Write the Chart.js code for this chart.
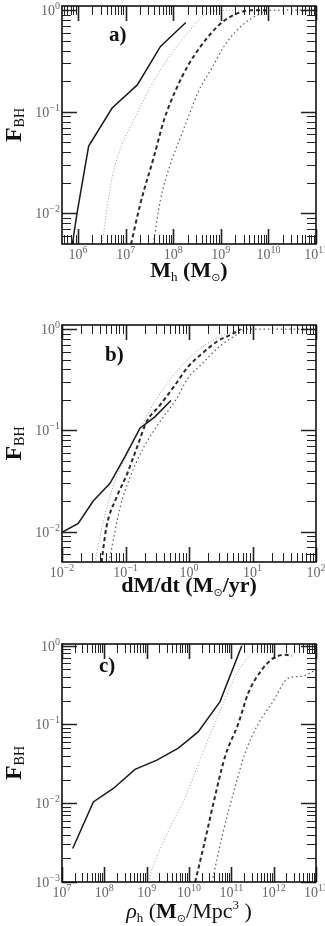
<!DOCTYPE html>
<html><head><meta charset="utf-8">
<script src="https://cdn.jsdelivr.net/npm/chart.js@4"></script>
<style>
html,body{margin:0;padding:0;background:#fff;}
body{width:325px;height:926px;position:relative;overflow:hidden;}
canvas{position:absolute;left:0;}
</style></head><body>
<canvas id="ca" width="325" height="300" style="top:0px;width:325px;height:300px"></canvas>
<canvas id="cb" width="325" height="310" style="top:300px;width:325px;height:310px"></canvas>
<canvas id="cc" width="325" height="316" style="top:610px;width:325px;height:316px"></canvas>
<script>
// ---------- Panel a: F_BH vs halo mass M_h (Msun) ----------
const aSolidX = [7.6e5, 9.5e5, 1.67e6, 5.2e6, 1.76e7, 5.4e7, 1.84e8];
const aSolidY = [0.005, 0.010, 0.046, 0.109, 0.184, 0.44, 0.757];
const aDotX   = [3.2e6, 5.2e6, 1.76e7, 5.45e7, 2.0e8, 4.9e8, 1.0e9, 3.0e9];
const aDotY   = [0.005, 0.0223, 0.097, 0.259, 0.594, 0.93, 1.0, 1.0];
const aDashX  = [1.3e7, 2.06e7, 3.94e7, 6.4e7, 1.13e8, 2.0e8, 3.5e8, 6.0e8, 1.1e9, 2.1e9, 4.5e9, 1.0e10];
const aDashY  = [0.005, 0.0127, 0.0363, 0.083, 0.164, 0.28, 0.42, 0.58, 0.77, 0.92, 1.0, 1.0];
const aDdX    = [3.8e7, 5.4e7, 8.8e7, 1.44e8, 2.0e8, 3.5e8, 6.2e8, 1.28e9, 2.9e9, 6.0e9, 1.2e10, 1.0e11];
const aDdY    = [0.005, 0.0136, 0.031, 0.057, 0.085, 0.164, 0.26, 0.47, 0.72, 0.90, 1.0, 1.0];
const aXExp = [6, 7, 8, 9, 10, 11];
const aYExp = [0, -1, -2];

// ---------- Panel b: F_BH vs accretion rate dM/dt (Msun/yr) ----------
const bSolidX = [0.01, 0.018, 0.031, 0.057, 0.098, 0.169, 0.29, 0.52];
const bSolidY = [0.0098, 0.012, 0.020, 0.030, 0.055, 0.105, 0.136, 0.197];
const bDotX   = [0.033, 0.045, 0.068, 0.105, 0.17, 0.31, 0.566, 0.95, 1.58, 2.9, 4.7, 7.0];
const bDotY   = [0.005, 0.0127, 0.0314, 0.057, 0.105, 0.206, 0.349, 0.50, 0.66, 0.83, 0.93, 1.0];
const bDashX  = [0.042, 0.05, 0.072, 0.105, 0.15, 0.216, 0.35, 0.60, 0.95, 1.58, 2.9, 4.7, 6.5];
const bDashY  = [0.005, 0.011, 0.0216, 0.0366, 0.0666, 0.122, 0.178, 0.279, 0.42, 0.57, 0.77, 0.89, 1.0];
const bDdX    = [0.055, 0.082, 0.117, 0.19, 0.35, 0.64, 0.95, 1.58, 2.9, 5.3, 8.1, 100];
const bDdY    = [0.005, 0.0172, 0.034, 0.0666, 0.122, 0.206, 0.325, 0.45, 0.66, 0.86, 1.0, 1.0];
const bXExp = [-2, -1, 0, 1, 2];
const bYExp = [0, -1, -2];

// ---------- Panel c: F_BH vs halo density rho_h (Msun/Mpc^3) ----------
const cSolidX = [1.79e7, 5.5e7, 1.63e8, 5.3e8, 1.74e9, 5.6e9, 1.07e10, 1.66e10, 5.4e10, 1.77e11];
const cSolidY = [0.00266, 0.0104, 0.0154, 0.0269, 0.0353, 0.050, 0.0667, 0.081, 0.195, 1.0];
const cDotX   = [1.1e9, 1.25e9, 3.57e9, 8.1e9, 2.4e10, 6.0e10, 1.23e11, 3.05e11, 5.2e11];
const cDotY   = [0.001, 0.0013, 0.0049, 0.0118, 0.052, 0.168, 0.405, 0.805, 1.0];
const cDashX  = [1.4e10, 2.4e10, 4.1e10, 7.1e10, 1.47e11, 2.5e11, 5.2e11, 9.9e11, 1.87e12, 2.7e12];
const cDashY  = [0.001, 0.0034, 0.0121, 0.039, 0.1035, 0.249, 0.49, 0.695, 0.766, 0.74];
const cDdX    = [3.5e10, 6.0e10, 1.23e11, 2.1e11, 4.4e11, 9.1e11, 2.24e12, 4.6e12, 1.0e13];
const cDdY    = [0.001, 0.0037, 0.0162, 0.043, 0.1035, 0.186, 0.387, 0.41, 0.49];
const cXExp = [7, 8, 9, 10, 11, 12, 13];
const cYExp = [0, -1, -2, -3];

// ---------- styling ----------
const SERIF = '"Liberation Serif", "DejaVu Serif", serif';
const SYM = '"DejaVu Sans", "DejaVu Serif", sans-serif';
const STYLES = {
  solid: { color: '#1a1a1a', w: 1.5, dash: [], smooth: false },
  dot:   { color: '#9a9a9a', w: 1.0, dash: [1, 2], smooth: true },
  dash:  { color: '#2a2a2a', w: 2.0, dash: [4, 3], smooth: true },
  dd:    { color: '#5a5a5a', w: 1.2, dash: [1.5, 2.8], smooth: true }
};

function pts(xs, ys) { return xs.map((x, i) => ({ x: x, y: ys[i] })); }

function drawRich(ctx, segs, cx, baseY) {
  let total = 0;
  segs.forEach(s => { ctx.font = s.f; s.w = ctx.measureText(s.t).width; total += s.w; });
  let x = cx - total / 2;
  segs.forEach(s => {
    ctx.font = s.f; ctx.fillStyle = s.c || '#111';
    ctx.fillText(s.t, x, baseY + (s.dy || 0));
    x += s.w;
  });
}

function minorValues(min, max) {
  const out = [];
  for (let d = Math.floor(Math.log10(min)) - 1; d <= Math.ceil(Math.log10(max)); d++) {
    for (let m = 2; m <= 9; m++) {
      const v = m * Math.pow(10, d);
      if (v > min && v < max) out.push(v);
    }
  }
  return out;
}

const DECOR = {};

const decorPlugin = {
  id: 'decor',
  afterDraw(chart) {
    const cfg = DECOR[chart.canvas.id];
    if (!cfg) return;
    const ctx = chart.ctx, ca = chart.chartArea;
    const xs = chart.scales.x, ys = chart.scales.y;
    const MAJ = 15, MIN = 9;
    ctx.save();
    ctx.strokeStyle = '#222';
    ctx.lineWidth = 1;
    ctx.beginPath();
    const xMaj = cfg.xExp.map(e => Math.pow(10, e));
    const yMaj = cfg.yExp.map(e => Math.pow(10, e));
    const xMin = minorValues(xs.min, xs.max);
    const yMin = minorValues(ys.min, ys.max);
    function vt(v, len) {
      const p = Math.round(xs.getPixelForValue(v)) + 0.5;
      if (p < ca.left - 0.5 || p > ca.right + 0.5) return;
      ctx.moveTo(p, ca.bottom); ctx.lineTo(p, ca.bottom - len);
      ctx.moveTo(p, ca.top); ctx.lineTo(p, ca.top + len);
    }
    function ht(v, len) {
      const p = Math.round(ys.getPixelForValue(v)) + 0.5;
      if (p < ca.top - 0.5 || p > ca.bottom + 0.5) return;
      ctx.moveTo(ca.left, p); ctx.lineTo(ca.left + len, p);
      ctx.moveTo(ca.right, p); ctx.lineTo(ca.right - len, p);
    }
    xMin.forEach(v => vt(v, MIN));
    yMin.forEach(v => ht(v, MIN));
    ctx.stroke();
    ctx.lineWidth = 1.6;
    ctx.beginPath();
    xMaj.forEach(v => vt(v, MAJ));
    yMaj.forEach(v => ht(v, MAJ));
    ctx.stroke();
    // frame
    ctx.lineWidth = 1.6;
    ctx.strokeStyle = '#111';
    ctx.strokeRect(ca.left, ca.top, ca.right - ca.left, ca.bottom - ca.top);

    // tick labels
    const BASEF = '14px ' + SERIF, EXPF = '10px ' + SERIF;
    ctx.fillStyle = '#666';
    ctx.textBaseline = 'alphabetic';
    function expStr(e) { return e < 0 ? '\u2212' + (-e) : String(e); }
    cfg.xExp.forEach(e => {
      const p = xs.getPixelForValue(Math.pow(10, e));
      ctx.font = BASEF; const wb = ctx.measureText('10').width;
      ctx.font = EXPF; const we = ctx.measureText(expStr(e)).width;
      const x0 = p - (wb + we) / 2;
      const by = ca.bottom + 14.5;
      ctx.font = BASEF; ctx.fillText('10', x0, by);
      ctx.font = EXPF; ctx.fillText(expStr(e), x0 + wb, by - 6);
    });
    cfg.yExp.forEach(e => {
      const p = ys.getPixelForValue(Math.pow(10, e));
      ctx.font = BASEF; const wb = ctx.measureText('10').width;
      ctx.font = EXPF; const we = ctx.measureText(expStr(e)).width;
      const x1 = ca.left - 2;
      const by = p + 5;
      ctx.font = EXPF; ctx.fillText(expStr(e), x1 - we, by - 6);
      ctx.font = BASEF; ctx.fillText('10', x1 - we - wb, by);
    });

    // panel label
    ctx.fillStyle = '#111';
    ctx.font = 'bold 21px ' + SERIF;
    ctx.fillText(cfg.label, cfg.labelX, cfg.labelY);

    // x-axis title
    drawRich(ctx, cfg.xTitle, (ca.left + ca.right) / 2, cfg.xTitleY);

    // y-axis title (rotated)
    ctx.save();
    ctx.translate(21, (ca.top + ca.bottom) / 2);
    ctx.rotate(-Math.PI / 2);
    drawRich(ctx, [
      { t: 'F', f: 'bold 24px ' + SERIF },
      { t: 'BH', f: '14px ' + SERIF, dy: 3 }
    ], 0, 0);
    ctx.restore();
    ctx.restore();
  }
};

function makeChart(id, c) {
  DECOR[id] = c.decor;
  const series = [
    [c.solid[0], c.solid[1], STYLES.solid],
    [c.dot[0], c.dot[1], STYLES.dot],
    [c.dash[0], c.dash[1], STYLES.dash],
    [c.dd[0], c.dd[1], STYLES.dd]
  ];
  return new Chart(document.getElementById(id), {
    type: 'line',
    data: {
      datasets: series.map(s => ({
        data: pts(s[0], s[1]),
        borderColor: s[2].color,
        borderWidth: s[2].w,
        borderDash: s[2].dash,
        pointRadius: 0,
        fill: false,
        tension: 0,
        cubicInterpolationMode: s[2].smooth ? 'monotone' : 'default'
      }))
    },
    options: {
      responsive: false,
      animation: false,
      devicePixelRatio: 1,
      events: [],
      layout: { padding: { top: c.padTop, right: 9, left: 0, bottom: 0 } },
      plugins: { legend: { display: false }, tooltip: { enabled: false } },
      scales: {
        x: {
          type: 'logarithmic', min: c.xMin, max: c.xMax,
          grid: { display: false }, border: { display: false },
          ticks: { display: false },
          afterFit: s => { s.height = c.xH; s.paddingLeft = 0; s.paddingRight = 0; }
        },
        y: {
          type: 'logarithmic', min: c.yMin, max: c.yMax,
          grid: { display: false }, border: { display: false },
          ticks: { display: false },
          afterFit: s => { s.width = 62; s.paddingTop = 0; s.paddingBottom = 0; }
        }
      }
    },
    plugins: [decorPlugin]
  });
}

const B20 = 'bold 22px ' + SERIF;
const R20 = '22px ' + SERIF;
const SUB = '13px ' + SERIF;
const SUN = '11px ' + SYM;

makeChart('ca', {
  solid: [aSolidX, aSolidY], dot: [aDotX, aDotY], dash: [aDashX, aDashY], dd: [aDdX, aDdY],
  xMin: 4.6e5, xMax: 1.0e11, yMin: 0.005, yMax: 1.1, padTop: 6, xH: 56,
  decor: {
    xExp: aXExp, yExp: aYExp, label: 'a)', labelX: 109, labelY: 41, xTitleY: 277,
    xTitle: [
      { t: 'M', f: B20 }, { t: 'h', f: SUB, dy: 4 }, { t: ' (M', f: B20 },
      { t: '\u2299', f: SUN, dy: 4 }, { t: ')', f: B20 }
    ]
  }
});

makeChart('cb', {
  solid: [bSolidX, bSolidY], dot: [bDotX, bDotY], dash: [bDashX, bDashY], dd: [bDdX, bDdY],
  xMin: 0.01, xMax: 100, yMin: 0.005, yMax: 1.1, padTop: 25, xH: 48,
  decor: {
    xExp: bXExp, yExp: bYExp, label: 'b)', labelX: 105, labelY: 61, xTitleY: 292,
    xTitle: [
      { t: 'dM/dt (M', f: B20 }, { t: '\u2299', f: SUN, dy: 4 }, { t: '/yr)', f: B20 }
    ]
  }
});

makeChart('cc', {
  solid: [cSolidX, cSolidY], dot: [cDotX, cDotY], dash: [cDashX, cDashY], dd: [cDdX, cDdY],
  xMin: 1e7, xMax: 1e13, yMin: 0.001, yMax: 1.05, padTop: 34, xH: 44,
  decor: {
    xExp: cXExp, yExp: cYExp, label: 'c)', labelX: 99, labelY: 62, xTitleY: 308,
    xTitle: [
      { t: '\u03C1', f: 'italic 22px ' + SERIF }, { t: 'h', f: SUB, dy: 4 }, { t: ' (', f: R20 },
      { t: 'M', f: B20 }, { t: '\u2299', f: SUN, dy: 4 }, { t: '/Mpc', f: R20 },
      { t: '3', f: SUB, dy: -9 }, { t: ' )', f: R20 }
    ]
  }
});
</script>
</body></html>
